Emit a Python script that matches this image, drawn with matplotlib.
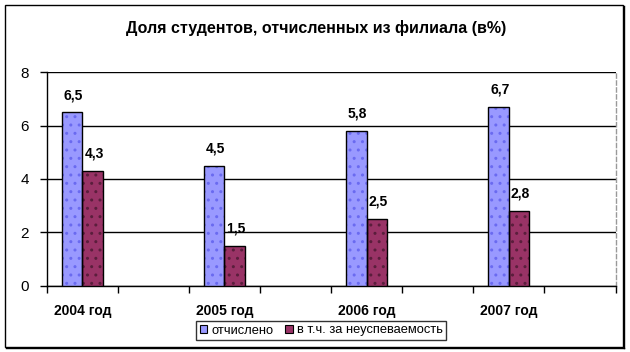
import matplotlib
matplotlib.use("Agg")
import matplotlib.pyplot as plt
from matplotlib.patches import Rectangle, Patch
from matplotlib.lines import Line2D
import numpy as np

plt.rcParams['font.family'] = ['Liberation Sans', 'DejaVu Sans']

title = "Доля студентов, отчисленных из филиала (в%)"
years = ["2004 год", "2005 год", "2006 год", "2007 год"]
otchisleno = [6.5, 4.5, 5.8, 6.7]
neusp = [4.3, 1.5, 2.5, 2.8]
series_names = ["отчислено", "в т.ч. за неуспеваемость"]
yticks = [0, 2, 4, 6, 8]

c1, c1dot = "#9999FF", "#6A6AF0"
c2, c2dot = "#993366", "#5A1E3C"

W, H = 630, 352
fig = plt.figure(figsize=(W / 100, H / 100), dpi=100)
ax = fig.add_axes([46.7 / W, 1 - 285.7 / H, (615.5 - 46.7) / W, (285.7 - 72.3) / H])

n_slots = len(years) * 2
pos = np.arange(len(years)) * 2
bw = 0.29

for vals, off, fc, dc in [(otchisleno, -bw / 2, c1, c1dot), (neusp, bw / 2, c2, c2dot)]:
    ax.bar(pos + off, vals, bw, color=fc, edgecolor=dc, linewidth=0, hatch="..", zorder=3)
    ax.bar(pos + off, vals, bw, facecolor="none", edgecolor="black", linewidth=1.0, zorder=4)
    for x, v in zip(pos + off, vals):
        ax.annotate(f"{v:.1f}".replace(".", ","), (x, v), xytext=(1, 9.4), textcoords="offset points",
                    ha="center", va="baseline", fontsize=10, fontweight="bold", zorder=5)

ax.set_xlim(-0.5, n_slots - 0.5)
ax.set_ylim(0, 8)
ax.set_yticks(yticks)
ax.set_yticklabels([str(t) for t in yticks], fontsize=11)
ax.yaxis.grid(True, color="black", linewidth=1.0, zorder=1)
ax.set_axisbelow(True)

ax.set_xticks(np.arange(n_slots + 1) - 0.5)
ax.set_xticklabels([])
for x, lab in zip(pos, years):
    ax.text(x, -18 / (285.7 - 72.3), lab, transform=ax.get_xaxis_transform(), ha="center", va="top",
            fontsize=10, fontweight="bold")

ax.tick_params(axis="x", direction="out", length=5, width=1, colors="black")
ax.tick_params(axis="y", direction="out", length=5, width=1, pad=8)
ax.spines["top"].set_visible(False)
ax.spines["right"].set_color("#999999")
ax.spines["right"].set_linestyle((0, (3, 2)))
ax.spines["right"].set_linewidth(1.0)
ax.spines["left"].set_linewidth(1.0)
ax.spines["bottom"].set_linewidth(1.0)

fig.text(316 / W, 1 - 28 / H, title, ha="center", va="center", fontsize=11.5, fontweight="bold")

handles = [Patch(facecolor=c1, edgecolor="black", linewidth=0.8),
           Patch(facecolor=c2, edgecolor="black", linewidth=0.8)]
leg = fig.legend(handles, series_names, loc="center", bbox_to_anchor=(321 / W, 1 - 330.5 / H),
                 ncol=2, fontsize=9.3, frameon=True, fancybox=False, handlelength=0.6,
                 handleheight=0.6, handletextpad=0.3, columnspacing=0.9, borderpad=0.3,
                 borderaxespad=0)
leg.get_frame().set_edgecolor("black")
leg.get_frame().set_linewidth(1.0)

# outer border with slight shadow
fig.patches.append(Rectangle((5 / W, 1 - 347 / H), 618 / W, 342 / H, transform=fig.transFigure,
                             facecolor="none", edgecolor="black", linewidth=1.0))
fig.lines.append(Line2D([624 / W, 624 / W], [1 - 348 / H, 1 - 6 / H], transform=fig.transFigure,
                        color="black", linewidth=1.0))
fig.lines.append(Line2D([6 / W, 624 / W], [1 - 348 / H, 1 - 348 / H], transform=fig.transFigure,
                        color="black", linewidth=1.0))

fig.savefig("out.png", dpi=100)
